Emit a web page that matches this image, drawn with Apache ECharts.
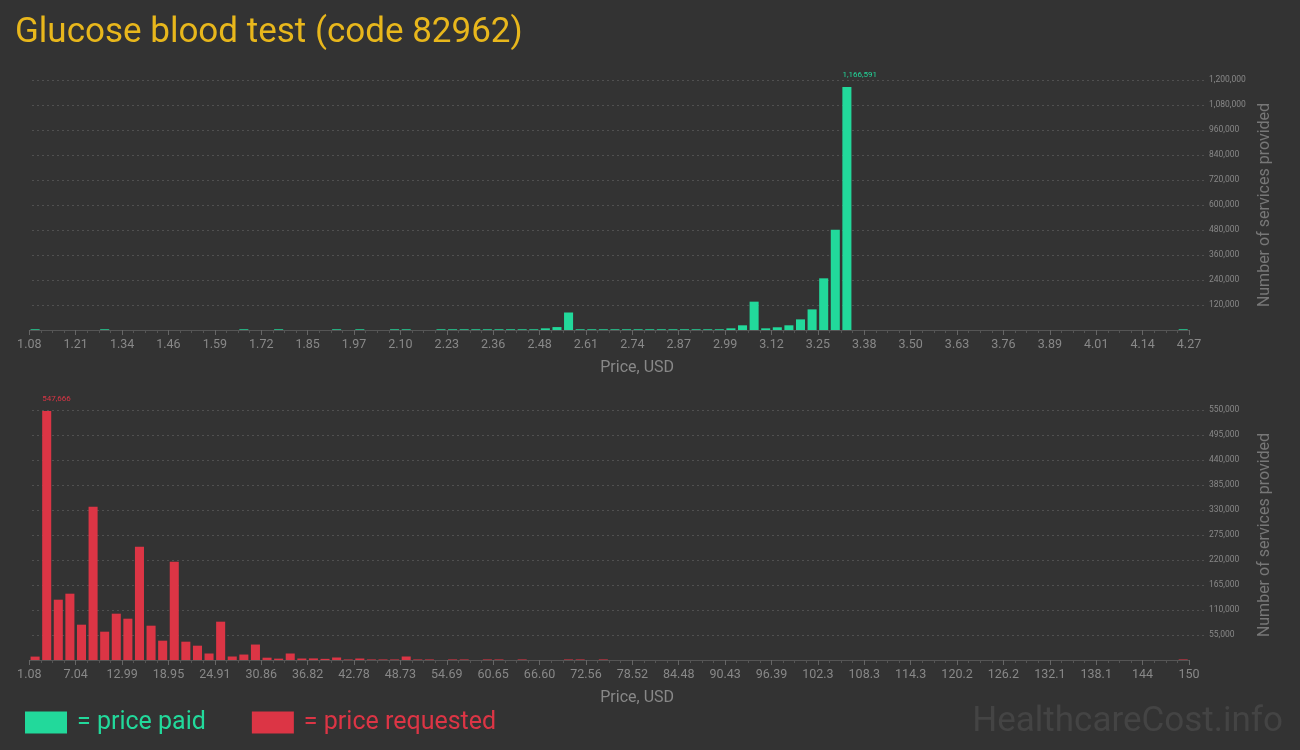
<!DOCTYPE html>
<html>
<head>
<meta charset="utf-8">
<script src="https://cdn.jsdelivr.net/npm/echarts@6/dist/echarts.min.js"></script>
<style>
html,body{margin:0;padding:0;background:#333333;}
#chart{width:1300px;height:750px;}
</style>
</head>
<body>
<div id="chart"></div>
<script>
// ---- data ----
const chartTitle = 'Glucose blood test (code 82962)';
const paidTickLabels = ['1.08','1.21','1.34','1.46','1.59','1.72','1.85','1.97','2.10','2.23','2.36','2.48','2.61','2.74','2.87','2.99','3.12','3.25','3.38','3.50','3.63','3.76','3.89','4.01','4.14','4.27'];
const requestedTickLabels = ['1.08','7.04','12.99','18.95','24.91','30.86','36.82','42.78','48.73','54.69','60.65','66.60','72.56','78.52','84.48','90.43','96.39','102.3','108.3','114.3','120.2','126.2','132.1','138.1','144','150'];
// number of services per price bin (100 bins each)
const paidCounts = [
  3500,0,0,0,0,0,3500,0,0,0,
  0,0,0,0,0,0,0,0,3500,0,
  0,3500,0,0,0,0,3500,0,3500,0,
  0,3500,3500,0,0,3500,3500,3500,3500,3500,
  3500,3500,3500,3500,8000,14000,84000,3500,3500,3500,
  3500,3500,3500,3500,3500,3500,3500,3500,3500,3500,
  8000,22500,136000,8000,13000,22500,51000,99000,248000,481600,
  1166591,0,0,0,0,0,0,0,0,0,
  0,0,0,0,0,0,0,0,0,0,
  0,0,0,0,0,0,0,0,0,3500
];
const requestedCounts = [
  7500,547666,132700,145900,77700,337300,62300,101900,90900,249300,
  75500,42500,216300,40300,31500,14300,84300,7700,12000,34000,
  5100,3000,14300,3300,3500,2500,5500,1200,3300,1200,
  1200,1200,7700,1200,1200,0,1200,1200,0,1200,
  1200,0,1200,0,0,0,1200,1200,0,1200,
  0,0,0,0,0,0,0,0,0,0,
  0,0,0,0,0,0,0,0,0,0,
  0,0,0,0,0,0,0,0,0,0,
  0,0,0,0,0,0,0,0,0,0,
  0,0,0,0,0,0,0,0,0,1200
];
const paidAxisMax = 1200000, paidAxisStep = 120000;
const requestedAxisMax = 550000, requestedAxisStep = 55000;
const seriesNames = ['price paid', 'price requested'];

// ---- style ----
const GREEN = '#22d99b', RED = '#dc3545';
const FONT = 'Roboto, sans-serif';
const binIndex = paidCounts.map((_, i) => String(i));

function withMaxLabel(arr, color) {
  const mx = Math.max(...arr);
  return arr.map(v => v === mx ? {
    value: v,
    label: {show: true, position: 'top', align: 'left', offset: [-4.5, 0], distance: 8,
      color: color, fontSize: 8, fontFamily: FONT,
      formatter: p => p.value.toLocaleString('en-US')}
  } : v);
}

function tickFmt(labels) {
  return v => (v % 4 === 0) ? labels[Math.round(v / 4)] : '';
}

const chart = echarts.init(document.getElementById('chart'), null, {renderer: 'canvas'});

const barGridTop = {left: 29.3, width: 1159.7, top: 80, height: 250};
const lineGridTop = {left: 32, width: 1175, top: 80, height: 250};
const barGridBot = {left: 29.3, width: 1159.7, top: 410, height: 250};
const lineGridBot = {left: 32, width: 1175, top: 410, height: 250};

function priceAxis(gridIndex, labels) {
  return {
    type: 'value', gridIndex: gridIndex, position: 'bottom', min: 0, max: 100, interval: 4,
    name: 'Price, USD', nameLocation: 'middle', nameGap: 30,
    nameTextStyle: {color: '#888', fontSize: 16, fontFamily: FONT, padding: [0, 0, 0, 56]},
    axisLine: {show: true, lineStyle: {color: '#555', width: 1}},
    axisTick: {show: true, length: 5, lineStyle: {color: '#666'}},
    minorTick: {show: true, splitNumber: 4, length: 3, lineStyle: {color: '#555'}},
    axisLabel: {color: '#888', fontSize: 12.5, fontFamily: FONT, margin: 8, formatter: tickFmt(labels)},
    splitLine: {show: false}
  };
}

function countAxis(gridIndex, max, step) {
  return {
    type: 'value', gridIndex: gridIndex, position: 'right', min: 0, max: max, interval: step,
    name: 'Number of services provided', nameLocation: 'middle', nameGap: 50, nameRotate: 90,
    nameTextStyle: {color: '#777', fontSize: 16, fontFamily: FONT},
    axisLine: {show: false}, axisTick: {show: false},
    axisLabel: {color: '#888', fontSize: 8.5, fontFamily: FONT, margin: 2,
      formatter: v => v === 0 ? '' : v.toLocaleString('en-US')},
    splitLine: {show: true, showMinLine: false, lineStyle: {color: '#505050', width: 1, type: [2, 3]}}
  };
}

const option = {
  backgroundColor: '#333333',
  animation: false,
  title: [
    {text: chartTitle, left: 10, top: 11,
      textStyle: {color: '#e8b71c', fontSize: 35, fontWeight: 'normal', fontFamily: FONT}},
    {text: 'HealthcareCost.info', right: 12, top: 700,
      textStyle: {color: '#444444', fontSize: 35, fontWeight: 'normal', fontFamily: FONT}}
  ],
  legend: {
    left: 20, top: 705, itemWidth: 42, itemHeight: 22, itemGap: 46, icon: 'rect',
    selectedMode: false,
    formatter: '= {name}',
    textStyle: {fontSize: 25, fontFamily: FONT, padding: [0, 0, 0, 5]},
    data: [
      {name: seriesNames[0], textStyle: {color: GREEN}},
      {name: seriesNames[1], textStyle: {color: RED}}
    ]
  },
  grid: [barGridTop, lineGridTop, barGridBot, lineGridBot],
  xAxis: [
    {type: 'category', gridIndex: 0, position: 'bottom', data: binIndex, show: false, boundaryGap: true},
    priceAxis(0, paidTickLabels),
    {type: 'value', gridIndex: 1, show: false, min: 0, max: 1},
    {type: 'category', gridIndex: 2, position: 'bottom', data: binIndex, show: false, boundaryGap: true},
    priceAxis(2, requestedTickLabels),
    {type: 'value', gridIndex: 3, show: false, min: 0, max: 1}
  ],
  yAxis: [
    {type: 'value', gridIndex: 0, min: 0, max: paidAxisMax, show: false},
    countAxis(1, paidAxisMax, paidAxisStep),
    {type: 'value', gridIndex: 2, min: 0, max: requestedAxisMax, show: false},
    countAxis(3, requestedAxisMax, requestedAxisStep)
  ],
  series: [
    {name: seriesNames[0], type: 'bar', xAxisIndex: 0, yAxisIndex: 0,
      barCategoryGap: '22%', itemStyle: {color: GREEN},
      data: withMaxLabel(paidCounts, GREEN)},
    {name: seriesNames[1], type: 'bar', xAxisIndex: 3, yAxisIndex: 2,
      barCategoryGap: '22%', itemStyle: {color: RED},
      data: withMaxLabel(requestedCounts, RED)}
  ]
};
chart.setOption(option);
</script>
</body>
</html>
